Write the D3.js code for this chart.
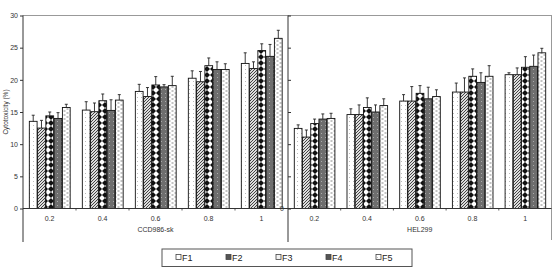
<!DOCTYPE html>
<html>
<head>
<meta charset="utf-8">
<script src="https://cdn.jsdelivr.net/npm/d3@7"></script>
<style>
  html, body { margin: 0; padding: 0; background: #fff; }
  svg { display: block; font-family: "Liberation Sans", Arial, sans-serif; }
</style>
</head>
<body>
<svg id="chart" width="553" height="267"></svg>
<script>
// ---------- data ----------
const categories = ["0.2", "0.4", "0.6", "0.8", "1"];
const seriesNames = ["F1", "F2", "F3", "F4", "F5"];
const yTicks = [0, 5, 10, 15, 20, 25, 30];
const panelTitles = ["CCD986-sk", "HEL299"];
const yTitle = "Cytotoxicity (%)";

// CCD986-sk
const ccdF1 = [13.55, 15.3, 18.2, 20.25, 22.55];
const ccdF2 = [12.5, 15.05, 17.4, 19.7, 21.75];
const ccdF3 = [14.4, 16.75, 19.2, 22.2, 24.55];
const ccdF4 = [14.0, 15.25, 18.9, 21.6, 23.65];
const ccdF5 = [15.7, 16.85, 19.1, 21.6, 26.45];
const ccdErrF1 = [0.95, 1.3, 1.1, 1.15, 1.65];
const ccdErrF2 = [1.2, 1.35, 1.4, 1.6, 1.05];
const ccdErrF3 = [0.6, 1.05, 1.3, 1.2, 1.05];
const ccdErrF4 = [0.9, 1.65, 0.35, 1.2, 1.85];
const ccdErrF5 = [0.5, 0.85, 1.45, 0.9, 1.25];

// HEL299
const helF1 = [12.45, 14.6, 16.7, 18.1, 20.8];
const helF2 = [11.1, 14.6, 16.7, 18.1, 20.8];
const helF3 = [13.2, 15.7, 17.9, 20.55, 21.95];
const helF4 = [13.9, 15.0, 17.05, 19.6, 22.1];
const helF5 = [14.0, 16.0, 17.4, 20.55, 24.2];
const helErrF1 = [0.55, 0.9, 1.0, 1.4, 0.3];
const helErrF2 = [1.1, 1.5, 2.25, 2.2, 1.05];
const helErrF3 = [0.7, 1.5, 1.2, 1.15, 1.65];
const helErrF4 = [0.8, 1.1, 1.8, 1.5, 1.75];
const helErrF5 = [0.8, 1.05, 1.05, 1.65, 0.7];

const panels = [
  { title: panelTitles[0], values: [ccdF1, ccdF2, ccdF3, ccdF4, ccdF5], errors: [ccdErrF1, ccdErrF2, ccdErrF3, ccdErrF4, ccdErrF5], x0: 23, x1: 288 },
  { title: panelTitles[1], values: [helF1, helF2, helF3, helF4, helF5], errors: [helErrF1, helErrF2, helErrF3, helErrF4, helErrF5], x0: 288, x1: 551.5 }
];

// ---------- drawing ----------
const svg = d3.select("#chart");
const defs = svg.append("defs");

// patterns
function pat(id, w, h, build) {
  const p = defs.append("pattern").attr("id", id).attr("patternUnits", "userSpaceOnUse")
    .attr("width", w).attr("height", h);
  build(p);
}
pat("pF1", 4, 4, p => {
  p.append("rect").attr("width", 4).attr("height", 4).attr("fill", "#fff");
  p.append("rect").attr("x", 1).attr("y", 1).attr("width", 1).attr("height", 1).attr("fill", "#bbb");
});
pat("pF2", 3, 3, p => {
  p.append("rect").attr("width", 3).attr("height", 3).attr("fill", "#ddd");
  p.append("path").attr("d", "M0,3 L3,0 M-1,1 L1,-1 M2,4 L4,2").attr("stroke", "#444").attr("stroke-width", 1);
});
pat("pF3", 6, 6, p => {
  p.append("rect").attr("width", 6).attr("height", 6).attr("fill", "#fff");
  p.append("path").attr("d", "M3,0 L6,3 L3,6 L0,3 Z").attr("fill", "#111");
});
pat("pF4", 4, 4, p => {
  p.append("rect").attr("width", 4).attr("height", 4).attr("fill", "#6e6e6e");
  p.append("rect").attr("x", 1).attr("y", 1).attr("width", 1).attr("height", 1).attr("fill", "#aaa");
});
pat("pF5", 6, 4, p => {
  p.append("rect").attr("width", 6).attr("height", 4).attr("fill", "#fff");
  p.append("path").attr("d", "M0.5,1 L2.5,1 M3.5,3 L5.5,3").attr("stroke", "#888").attr("stroke-width", 1);
});
const fills = ["url(#pF1)", "url(#pF2)", "url(#pF3)", "url(#pF4)", "url(#pF5)"];

const y = d3.scaleLinear().domain([0, 30]).range([208.5, 15.5]);
const axisColor = "#333";
const gridColor = "#999";
const tickFont = 7;

// top border line
svg.append("line").attr("x1", 23).attr("x2", 552).attr("y1", y(30)).attr("y2", y(30))
  .attr("stroke", gridColor).attr("stroke-width", 1);
// right border line
svg.append("line").attr("x1", 551.5).attr("x2", 551.5).attr("y1", y(30)).attr("y2", 240)
  .attr("stroke", gridColor).attr("stroke-width", 1);

panels.forEach((panel, pi) => {
  const x = d3.scaleBand().domain(categories).range([panel.x0, panel.x1])
    .paddingInner(0.22).paddingOuter(0.11);
  const xs = d3.scaleBand().domain(seriesNames).range([0, x.bandwidth()]);

  const g = svg.append("g");
  // bars
  seriesNames.forEach((s, si) => {
    const vals = panel.values[si], errs = panel.errors[si];
    const grp = g.append("g");
    grp.selectAll("rect").data(categories).join("rect")
      .attr("x", (c) => x(c) + xs(s) + 0.5)
      .attr("y", (c, i) => y(vals[i]))
      .attr("width", xs.bandwidth() - 0.5)
      .attr("height", (c, i) => y(0) - y(vals[i]))
      .attr("fill", fills[si])
      .attr("stroke", "#111").attr("stroke-width", 0.9);
    // error bars (upper only)
    grp.selectAll("path.err").data(categories).join("path").attr("class", "err")
      .attr("d", (c, i) => {
        const cx = x(c) + xs(s) + xs.bandwidth() / 2 + 0.25;
        const yt = y(vals[i] + errs[i]), yb = y(vals[i]);
        return `M${cx},${yb} L${cx},${yt} M${cx - 1.5},${yt} L${cx + 1.5},${yt}`;
      })
      .attr("stroke", "#222").attr("stroke-width", 0.9).attr("fill", "none");
  });

  // x axis line
  svg.append("line").attr("x1", panel.x0).attr("x2", panel.x1).attr("y1", y(0)).attr("y2", y(0))
    .attr("stroke", axisColor).attr("stroke-width", 1);
  // small tick marks between groups
  categories.slice(1).forEach((c) => {
    const tx = x(c) - x.step() * x.paddingInner() / 2;
    svg.append("line").attr("x1", tx).attr("x2", tx).attr("y1", y(0)).attr("y2", y(0) + 2)
      .attr("stroke", axisColor).attr("stroke-width", 0.8);
  });
  // category labels
  svg.append("g").selectAll("text").data(categories).join("text")
    .attr("x", c => x(c) + x.bandwidth() / 2)
    .attr("y", 221)
    .attr("text-anchor", "middle")
    .attr("font-size", tickFont).attr("fill", "#333")
    .text(c => c);
  // panel title
  svg.append("text").attr("x", (panel.x0 + panel.x1) / 2).attr("y", 232)
    .attr("text-anchor", "middle").attr("font-size", tickFont).attr("fill", "#333")
    .text(panel.title);
});

// left y axis
const axL = svg.append("g").attr("transform", "translate(23,0)")
  .call(d3.axisLeft(y).tickValues(yTicks).tickSize(3).tickPadding(2));
axL.select(".domain").remove();
axL.selectAll("line").attr("stroke", axisColor);
axL.selectAll("text").attr("font-size", tickFont).attr("fill", "#333")
  .attr("font-family", "Liberation Sans, Arial, sans-serif");
svg.append("line").attr("x1", 23).attr("x2", 23).attr("y1", y(30)).attr("y2", 242)
  .attr("stroke", axisColor).attr("stroke-width", 1);

// middle y axis (right panel)
const axM = svg.append("g").attr("transform", "translate(288,0)")
  .call(d3.axisRight(y).tickValues(yTicks).tickSize(3).tickFormat(""));
axM.select(".domain").remove();
axM.selectAll("line").attr("stroke", axisColor);
svg.append("line").attr("x1", 288).attr("x2", 288).attr("y1", y(30)).attr("y2", 242)
  .attr("stroke", axisColor).attr("stroke-width", 1);
svg.append("text").attr("x", 284).attr("y", y(0) + 2.5).attr("text-anchor", "end")
  .attr("font-size", tickFont).attr("fill", "#333").text(yTicks[0]);

// y title
svg.append("text").attr("transform", `translate(8,${y(15)}) rotate(-90)`)
  .attr("text-anchor", "middle").attr("font-size", 6.5).attr("fill", "#333").text(yTitle);

// legend
const leg = svg.append("g");
leg.append("rect").attr("x", 162).attr("y", 249).attr("width", 250).attr("height", 17.5)
  .attr("fill", "#fff").attr("stroke", "#555").attr("stroke-width", 1);
const legendX = d3.scalePoint().domain(seriesNames).range([176, 376]);
const legFills = ["#fff", "#555", "#f2f2f2", "#555", "url(#pF1)"];
seriesNames.forEach((s, si) => {
  const lx = legendX(s);
  leg.append("rect").attr("x", lx).attr("y", 254.5).attr("width", 5).attr("height", 5)
    .attr("fill", legFills[si]).attr("stroke", "#444").attr("stroke-width", 0.8);
  leg.append("text").attr("x", lx + 6).attr("y", 261).attr("font-size", 9).attr("fill", "#222").text(s);
});
</script>
</body>
</html>
